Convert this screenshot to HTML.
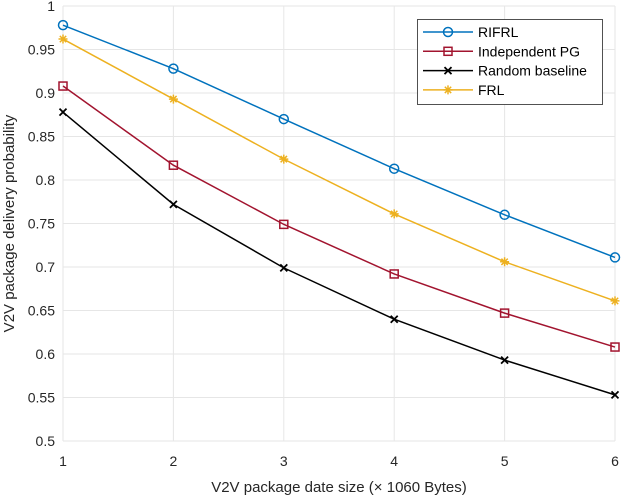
<!DOCTYPE html>
<html><head><meta charset="utf-8"><style>
body{margin:0;background:#fff}
svg{display:block;font-family:"Liberation Sans",sans-serif}
</style></head><body>
<svg id="c" width="622" height="496"></svg>
<script>
const categories=[1,2,3,4,5,6];
const rifrl=[0.978,0.928,0.870,0.813,0.760,0.711];
const indepPG=[0.908,0.817,0.749,0.692,0.647,0.608];
const randomBase=[0.878,0.772,0.699,0.640,0.593,0.553];
const frl=[0.962,0.893,0.824,0.761,0.706,0.661];
const yTicks=[0.5,0.55,0.6,0.65,0.7,0.75,0.8,0.85,0.9,0.95,1];
const yTickLabels=["0.5","0.55","0.6","0.65","0.7","0.75","0.8","0.85","0.9","0.95","1"];
const seriesNames=["RIFRL","Independent PG","Random baseline","FRL"];

const L=63,R=615,T=6,B=441;
const sx=v=>L+(v-1)/5*(R-L);
const sy=v=>B-(v-0.5)/0.5*(B-T);
const svg=document.getElementById('c');
const NS='http://www.w3.org/2000/svg';
function mk(tag,at,parent){const e=document.createElementNS(NS,tag);for(const k in at)e.setAttribute(k,at[k]);(parent||svg).appendChild(e);return e;}

const grid=mk('g',{});


categories.forEach(c=>{mk('line',{x1:sx(c),x2:sx(c),y1:T,y2:B,stroke:'#e6e6e6'},grid);
 const t=mk('text',{x:sx(c),y:B+25,'text-anchor':'middle','font-size':14,fill:'#262626'});t.textContent=c;
 });
yTicks.forEach((v,i)=>{mk('line',{x1:L,x2:R,y1:sy(v),y2:sy(v),stroke:'#e6e6e6'},grid);
 const t=mk('text',{x:L-8,y:sy(v)+5,'text-anchor':'end','font-size':14,fill:'#262626'});t.textContent=yTickLabels[i];
 });

function marker(g,type,x,y,col){
 if(type==='o')mk('circle',{cx:x,cy:y,r:4.5,fill:'none',stroke:col,'stroke-width':1.5},g);
 else if(type==='s')mk('rect',{x:x-4,y:y-4,width:8,height:8,fill:'none',stroke:col,'stroke-width':1.5},g);
 else if(type==='x'){mk('path',{d:`M${x-3.5},${y-3.5}L${x+3.5},${y+3.5}M${x-3.5},${y+3.5}L${x+3.5},${y-3.5}`,stroke:col,'stroke-width':1.8},g);}
 else {let d='';for(let a=0;a<4;a++){const an=a*Math.PI/4;d+=`M${x-4.5*Math.cos(an)},${y-4.5*Math.sin(an)}L${x+4.5*Math.cos(an)},${y+4.5*Math.sin(an)}`;}mk('path',{d,stroke:col,'stroke-width':1.5},g);}
}
const series=[[rifrl,'#0072bd','o'],[indepPG,'#a2142f','s'],[randomBase,'#000','x'],[frl,'#edb120','*']];
const names=['series-rifrl','series-independent-pg','series-random-baseline','series-frl'];
series.forEach(([d,col,m],i)=>{
 const g=mk('g',{});
 
 
 mk('polyline',{points:d.map((v,j)=>sx(categories[j])+','+sy(v)).join(' '),fill:'none',stroke:col,'stroke-width':1.5},g);
 d.forEach((v,j)=>marker(g,m,sx(categories[j]),sy(v),col));
});

const lg=mk('g',{});


mk('rect',{x:417.5,y:19.5,width:185,height:85,fill:'#fff',stroke:'#262626','stroke-width':0.8},lg);
series.forEach(([d,col,m],i)=>{
 const y=32+i*19.3;
 mk('line',{x1:423,x2:473,y1:y,y2:y,stroke:col,'stroke-width':1.5},lg);
 marker(lg,m,448,y,col);
 const t=mk('text',{x:478,y:y+5,'font-size':14,fill:'#000'},lg);t.textContent=seriesNames[i];
 
});

const xt=mk('text',{x:(L+R)/2,y:492,'text-anchor':'middle','font-size':15,fill:'#262626'});
xt.textContent='V2V package date size (× 1060 Bytes)';

const yt=mk('text',{x:0,y:0,'text-anchor':'middle','font-size':15,fill:'#262626',transform:`translate(14,${(T+B)/2}) rotate(-90)`});
yt.textContent='V2V package delivery probability';

</script>
</body></html>
